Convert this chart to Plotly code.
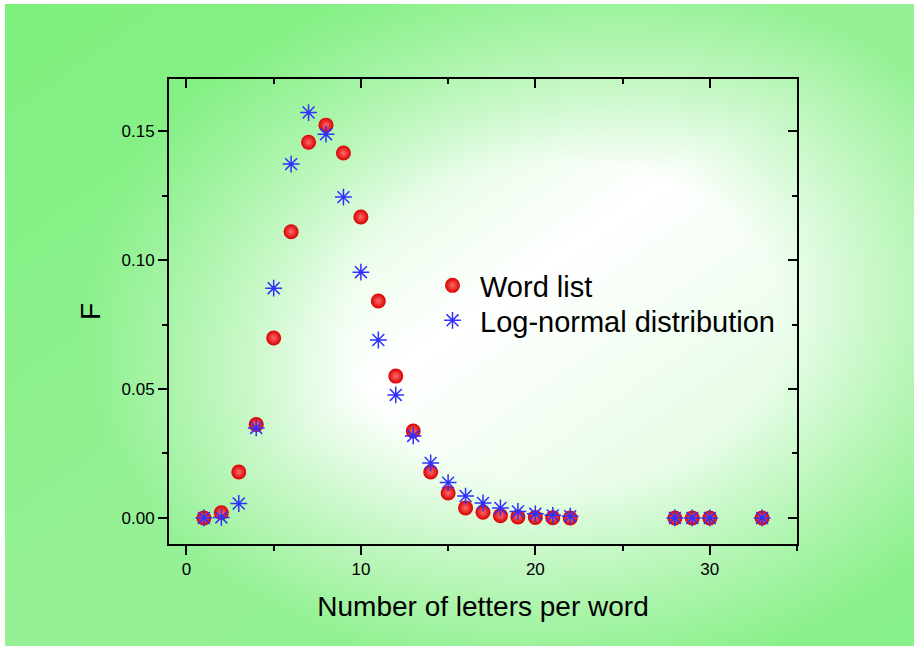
import plotly.graph_objects as go
import urllib.parse

# ---- data ----
letters = [1, 2, 3, 4, 5, 6, 7, 8, 9, 10, 11, 12, 13, 14, 15, 16, 17, 18, 19, 20, 21, 22, 28, 29, 30, 33]
word_list = [0.0, 0.002, 0.0178, 0.0362, 0.0698, 0.1110, 0.1457, 0.1523, 0.1415, 0.1167,
             0.0841, 0.0550, 0.0337, 0.0178, 0.0097, 0.0039, 0.0022, 0.0009, 0.0004, 0.0002,
             0.0001, 0.0, 0.0, 0.0, 0.0, 0.0]
log_normal = [0.0, 0.0002, 0.0056, 0.0349, 0.0891, 0.1372, 0.1572, 0.1488, 0.1244, 0.0953,
              0.0690, 0.0477, 0.0318, 0.0213, 0.0137, 0.0085, 0.0058, 0.0039, 0.0025, 0.0016,
              0.0010, 0.0007, 0.0, 0.0, 0.0, 0.0]
series_names = ["Word list", "Log-normal distribution"]
x_ticks = [0, 10, 20, 30]
y_ticks = [0.0, 0.05, 0.10, 0.15]
y_tick_labels = ["0.00", "0.05", "0.10", "0.15"]

W, H = 914, 646
ML, MR, MT, MB = 169, 117, 79, 102
PW, PH = W - ML - MR, H - MT - MB

FONT = "Liberation Sans, Arial, sans-serif"

# background radial gradient (svg data uri)
bw, bh = W - 5, H - 4
svg = f'''<svg xmlns="http://www.w3.org/2000/svg" width="{bw}" height="{bh}" viewBox="0 0 {bw} {bh}" preserveAspectRatio="none">
<defs><radialGradient id="g" gradientUnits="userSpaceOnUse" cx="560" cy="320" r="420"
 gradientTransform="translate(560 320) scale(1.15 0.85) translate(-560 -320)">
<stop offset="0" stop-color="#ffffff"/>
<stop offset="0.45" stop-color="#ffffff"/>
<stop offset="0.75" stop-color="#c4f7c4"/>
<stop offset="1" stop-color="#96f196"/>
</radialGradient>
<linearGradient id="c" x1="0" y1="0" x2="1" y2="1">
<stop offset="0" stop-color="#6cee6c" stop-opacity="0.6"/>
<stop offset="0.5" stop-color="#6cee6c" stop-opacity="0"/>
<stop offset="1" stop-color="#6cee6c" stop-opacity="0.35"/>
</linearGradient></defs>
<rect x="0" y="0" width="{bw}" height="{bh}" fill="url(#g)"/>
<rect x="0" y="0" width="{bw}" height="{bh}" fill="url(#c)"/>
</svg>'''
src = "data:image/svg+xml;charset=utf-8," + urllib.parse.quote(svg)

fig = go.Figure()
fig.add_trace(go.Scatter(
    x=letters, y=word_list, mode="markers", name=series_names[0], legend="legend",
    showlegend=True,
    marker=dict(symbol="circle", size=15, color="#d80000",
                gradient=dict(type="radial", color="#ff6a6a"),
                line=dict(width=0)),
))
fig.add_trace(go.Scatter(
    x=letters, y=log_normal, mode="markers", name=series_names[1], legend="legend2",
    showlegend=True,
    marker=dict(symbol="asterisk-open", size=14, color="#3030ff",
                line=dict(width=1.5, color="#3030ff")),
))
# dummy trace to activate mirrored axes
fig.add_trace(go.Scatter(x=[], y=[], xaxis="x2", yaxis="y2", showlegend=False, hoverinfo="skip"))

xr = [-1, 35]
yr = [-0.0101, 0.1702]
axis_common = dict(showline=True, linecolor="black", linewidth=2, showgrid=False, zeroline=False,
                   tickcolor="black", tickwidth=2, ticklen=9,
                   tickfont=dict(family=FONT, size=17, color="black"))

leg_common = dict(xanchor="left", yanchor="top", bgcolor="rgba(0,0,0,0)", itemwidth=45,
                  font=dict(family=FONT, size=29, color="black"))

fig.update_layout(
    width=W, height=H,
    margin=dict(l=ML, r=MR, t=MT, b=MB),
    showlegend=True,
    paper_bgcolor="white", plot_bgcolor="rgba(0,0,0,0)",
    font=dict(family=FONT, color="black"),
    xaxis=dict(range=xr, tickvals=x_ticks, ticks="outside",
               minor=dict(dtick=5, tick0=0, ticks="outside", ticklen=5, tickwidth=2, tickcolor="black"),
               title=dict(text="Number of letters per word", font=dict(family=FONT, size=28), standoff=18),
               **axis_common),
    yaxis=dict(range=yr, tickvals=y_ticks, ticktext=y_tick_labels, ticks="outside",
               minor=dict(dtick=0.025, tick0=0, ticks="outside", ticklen=5, tickwidth=2, tickcolor="black"),
               title=dict(text="F", font=dict(family=FONT, size=28), standoff=13),
               **axis_common),
    xaxis2=dict(range=xr, overlaying="x", side="top", tickvals=x_ticks, ticks="inside",
                showticklabels=False, anchor="y2",
                minor=dict(dtick=5, tick0=0, ticks="inside", ticklen=5, tickwidth=2, tickcolor="black"),
                **axis_common),
    yaxis2=dict(range=yr, overlaying="y", side="right", tickvals=y_ticks, ticks="inside",
                showticklabels=False, anchor="x2",
                minor=dict(dtick=0.025, tick0=0, ticks="inside", ticklen=5, tickwidth=2, tickcolor="black"),
                **axis_common),
    legend=dict(x=(425 - ML) / PW, y=(MT + PH - 260) / PH, visible=True, **leg_common),
    legend2=dict(x=(425 - ML) / PW, y=(MT + PH - 295) / PH, visible=True, **leg_common),
    images=[dict(source=src, xref="paper", yref="paper",
                 x=(5 - ML) / PW, y=(MT + PH - 4) / PH,
                 sizex=bw / PW, sizey=bh / PH, sizing="stretch",
                 xanchor="left", yanchor="top", layer="below")],
)

fig.write_html("out.html")
